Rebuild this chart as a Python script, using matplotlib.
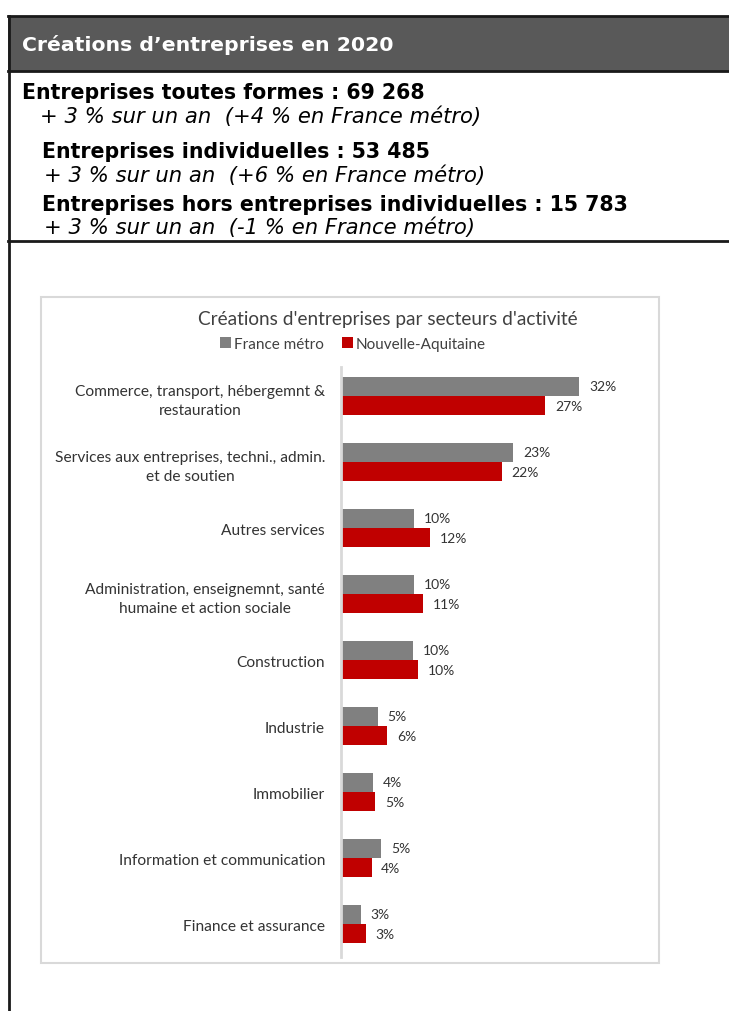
import matplotlib
matplotlib.use('Agg')
import numpy as np
import matplotlib.pyplot as plt
from matplotlib.patches import Rectangle
from matplotlib.lines import Line2D

W, H = 729, 1012

categories = ['Commerce, transport, hébergemnt &\nrestauration',
              'Services aux entreprises, techni., admin.\net de soutien',
              'Autres services',
              'Administration, enseignemnt, santé\nhumaine et action sociale',
              'Construction',
              'Industrie',
              'Immobilier',
              'Information et communication',
              'Finance et assurance']
france = [32.0, 23.1, 9.8, 9.8, 9.7, 4.9, 4.3, 5.4, 2.7]
nouvelle = [27.4, 21.6, 12.0, 11.0, 10.4, 6.2, 4.6, 4.1, 3.3]
series_names = ['France métro', 'Nouvelle-Aquitaine']

header_title = 'Créations d’entreprises en 2020'
header_lines = [('Entreprises toutes formes : 69 268', '+ 3 % sur un an  (+4 % en France métro)'),
                ('Entreprises individuelles : 53 485', '+ 3 % sur un an  (+6 % en France métro)'),
                ('Entreprises hors entreprises individuelles : 15 783', '+ 3 % sur un an  (-1 % en France métro)')]
chart_title = "Créations d'entreprises par secteurs d'activité"


def fx(px):
    return px / W


def fy(py):
    return 1 - py / H


fig = plt.figure(figsize=(W / 100, H / 100), dpi=100)
fig.patch.set_facecolor('white')

# header block
fig.patches.append(Rectangle((fx(8), fy(72)), 1, (72 - 17) / H, transform=fig.transFigure,
                             facecolor='#595959', edgecolor='none', zorder=-2))
for yy in [17, 72, 242]:
    fig.add_artist(Line2D([fx(8), 1], [fy(yy), fy(yy)], transform=fig.transFigure, color='#1a1a1a', lw=2))
fig.add_artist(Line2D([fx(9), fx(9)], [fy(17), 0], transform=fig.transFigure, color='#1a1a1a', lw=2))

fig.text(fx(22), fy(45), header_title, color='white', fontsize=14.7, fontweight='bold',
         family='DejaVu Sans', va='center')
xs_bold = [22, 42, 42]
xs_it = [40, 44, 44]
ys_bold = [93, 152, 205]
ys_it = [117, 176, 228]
for (b, it), xb, xi, yb, yi in zip(header_lines, xs_bold, xs_it, ys_bold, ys_it):
    fig.text(fx(xb), fy(yb), b, color='black', fontsize=14.8, fontweight='bold', family='DejaVu Sans', va='center')
    fig.text(fx(xi), fy(yi), it, color='black', fontsize=15.2, style='italic', family='DejaVu Sans', va='center')

# chart frame
fig.patches.append(Rectangle((fx(41), fy(964)), (659 - 41) / W, (964 - 298) / H, transform=fig.transFigure,
                             facecolor='white', edgecolor='#d9d9d9', lw=1.5, zorder=-1))

plt.rcParams['font.family'] = ['Lato', 'DejaVu Sans']

fig.text(fx(388), fy(320), chart_title, fontsize=13.7, color='#404040', ha='center', va='center')

ax = fig.add_axes([fx(341), fy(958), (639 - 341) / W, (958 - 368) / H])
y = np.arange(len(categories))
h = 0.29
b1 = ax.barh(y - h / 2, france, height=h, color='#808080', label=series_names[0])
b2 = ax.barh(y + h / 2, nouvelle, height=h, color='#c00000', label=series_names[1])
for bars, vals in [(b1, france), (b2, nouvelle)]:
    for bar, v in zip(bars, vals):
        ax.annotate(f'{v:.0f}%', (v, bar.get_y() + bar.get_height() / 2), xytext=(7, 0),
                    textcoords='offset points', va='center', ha='left', fontsize=10, color='#333333')

ax.set_xlim(0, 40)
ax.set_ylim(8.5, -0.44)
ax.set_yticks(y)
ax.set_yticklabels(categories, fontsize=11.2, color='#333333', multialignment='center')
for t in ax.get_yticklabels():
    t.set_linespacing(1.5)
ax.tick_params(axis='y', length=0, pad=11.5)
ax.set_xticks([])
for s in ['top', 'right', 'bottom']:
    ax.spines[s].set_visible(False)
ax.spines['left'].set_color('#d9d9d9')
ax.spines['left'].set_linewidth(2)
ax.patch.set_alpha(0)

fig.legend(handles=[b1, b2], loc='center', bbox_to_anchor=(fx(353), fy(345)), ncol=2, frameon=False,
           fontsize=11, handlelength=0.7, handleheight=0.7, handletextpad=0.2, columnspacing=1.2,
           labelcolor='#404040')

fig.savefig('out.png', dpi=100)
